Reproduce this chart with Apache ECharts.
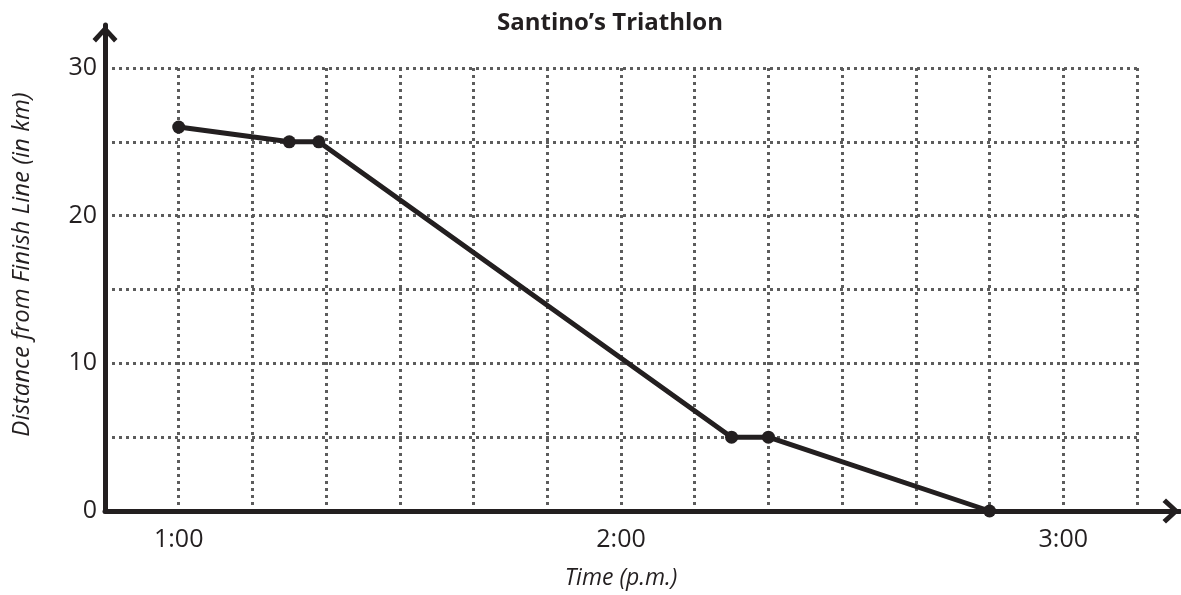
<!DOCTYPE html>
<html>
<head>
<meta charset="utf-8">
<script src="https://cdn.jsdelivr.net/npm/echarts@6/dist/echarts.min.js"></script>
<style>
  html, body { margin: 0; padding: 0; background: #fff; }
  #chart { width: 1181px; height: 595px; }
</style>
</head>
<body>
<div id="chart"></div>
<script>
// minutes after 1:00 p.m.
var timeMinutes = [0, 15, 19, 75, 80, 110]
var distanceKm = [26, 25, 25, 5, 5, 0]
var xLabelMinutes = [0, 60, 120]
var xLabelTexts = ['1:00', '2:00', '3:00']
var yLabelValues = [0, 10, 20, 30]

var ink = '#231f20'
var gridColor = '#5c5c5c'
var font = 'Open Sans'
// open chevron pointing up, used for the axis arrow heads
var chevron = 'path://M12.5,0 L25,13.5 L21.5,17 L12.5,7 L3.5,17 L0,13.5 Z'

var chart = echarts.init(document.getElementById('chart'))

chart.setOption({
  animation: false,
  title: {
    text: 'Santino\u2019s Triathlon',
    left: 492,
    top: 6,
    textStyle: { fontFamily: font, fontWeight: 'bold', fontSize: 24, color: ink }
  },
  grid: [
    { left: 105, right: 44, top: 68, bottom: 84 },
    { left: 105, right: 1, top: 25, bottom: 84 }
  ],
  xAxis: [{
    type: 'value',
    gridIndex: 0,
    min: -10,
    max: 130,
    interval: 10,
    name: 'Time (p.m.)',
    nameLocation: 'middle',
    nameGap: 56,
    nameTextStyle: { fontFamily: font, fontStyle: 'italic', fontSize: 23, color: ink },
    axisLine: { show: false },
    axisTick: { show: false },
    axisLabel: {
      fontFamily: font,
      fontSize: 25,
      color: ink,
      margin: 16,
      formatter: function (v) {
        var i = xLabelMinutes.indexOf(v)
        return i >= 0 ? xLabelTexts[i] : ''
      }
    },
    splitLine: { show: true, lineStyle: { color: gridColor, width: 3, type: [3, 4] } }
  }, {
    type: 'value',
    gridIndex: 1,
    min: 0,
    max: 1,
    axisLine: {
      show: true,
      symbol: ['none', chevron],
      symbolSize: [25, 19],
      symbolOffset: [0, -9],
      lineStyle: { color: ink, width: 5 }
    },
    axisTick: { show: false },
    axisLabel: { show: false },
    splitLine: { show: false }
  }],
  yAxis: [{
    type: 'value',
    gridIndex: 0,
    min: 0,
    max: 30,
    interval: 5,
    name: 'Distance from Finish Line (in km)',
    nameLocation: 'middle',
    nameGap: 71,
    nameTextStyle: { fontFamily: font, fontStyle: 'italic', fontSize: 24, color: ink, padding: [0, 0, 0, 50] },
    axisLine: { show: false },
    axisTick: { show: false },
    axisLabel: {
      fontFamily: font,
      fontSize: 25,
      color: ink,
      margin: 8,
      formatter: function (v) {
        return yLabelValues.indexOf(v) >= 0 ? String(v) : ''
      }
    },
    splitLine: { show: true, lineStyle: { color: gridColor, width: 3, type: [3, 4] } }
  }, {
    type: 'value',
    gridIndex: 1,
    min: 0,
    max: 1,
    axisLine: {
      show: true,
      symbol: ['none', chevron],
      symbolSize: [25, 19],
      symbolOffset: [0, -9],
      lineStyle: { color: ink, width: 5 }
    },
    axisTick: { show: false },
    axisLabel: { show: false },
    splitLine: { show: false }
  }],
  series: [{
    type: 'line',
    xAxisIndex: 0,
    yAxisIndex: 0,
    data: timeMinutes.map(function (t, i) { return [t, distanceKm[i]] }),
    symbol: 'circle',
    symbolSize: 13,
    itemStyle: { color: ink },
    lineStyle: { color: ink, width: 5 },
    z: 5
  }]
})
</script>
</body>
</html>
